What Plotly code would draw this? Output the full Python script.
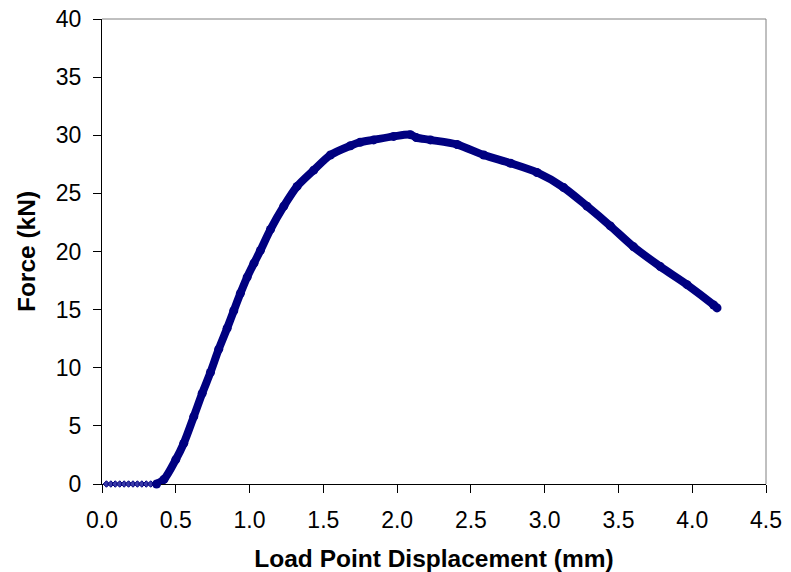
import plotly.graph_objects as go

# Load point displacement (mm) vs force (kN)
flat_disp = [0.03, 0.06, 0.09, 0.12, 0.15, 0.18, 0.21, 0.24, 0.27, 0.30, 0.33, 0.36]
flat_force = [0.0] * len(flat_disp)

disp = [0.37, 0.42, 0.50, 0.554, 0.622, 0.679, 0.735, 0.791, 0.848, 0.893,
        0.938, 0.984, 1.03, 1.074, 1.142, 1.232, 1.322, 1.435, 1.548, 1.684, 1.75,
        1.841, 1.977, 2.09, 2.13, 2.226, 2.407, 2.587, 2.768, 2.948, 3.129,
        3.287, 3.445, 3.603, 3.784, 3.965, 4.145, 4.168]
force = [0.0, 0.4, 2.1, 3.5, 5.8, 7.8, 9.6, 11.6, 13.4, 14.9,
         16.4, 17.8, 19.0, 20.1, 21.9, 23.9, 25.6, 27.0, 28.3, 29.1, 29.4,
         29.6, 29.9, 30.05, 29.8, 29.6, 29.2, 28.3, 27.6, 26.8, 25.5,
         23.9, 22.2, 20.4, 18.7, 17.15, 15.4, 15.15]

x_ticks = [0.0, 0.5, 1.0, 1.5, 2.0, 2.5, 3.0, 3.5, 4.0, 4.5]
y_ticks = [0, 5, 10, 15, 20, 25, 30, 35, 40]

navy = '#000080'

fig = go.Figure()

# flat part before contact: small spaced markers
fig.add_trace(go.Scatter(x=flat_disp, y=flat_force, mode='lines+markers',
                         line=dict(color=navy, width=1),
                         marker=dict(symbol='diamond', size=5, color='#3a3aa8',
                                     line=dict(color=navy, width=1)),
                         cliponaxis=False, showlegend=False))

# loaded part: dense band of markers
fig.add_trace(go.Scatter(x=disp, y=force, mode='lines+markers',
                         line=dict(color=navy, width=8, shape='spline', smoothing=0.8),
                         marker=dict(symbol='circle', size=9, color=navy),
                         cliponaxis=False, showlegend=False))

axis_font = dict(family='Liberation Sans, Arial, sans-serif', size=23, color='black')
title_font = dict(family='Liberation Sans, Arial, sans-serif', size=24.5, color='black')

fig.update_xaxes(range=[0, 4.5], tickvals=x_ticks, ticktext=[f'{v:.1f}' for v in x_ticks],
                 showline=True, linecolor='black', linewidth=1,
                 ticks='outside', ticklen=8, tickcolor='black',
                 showgrid=False, zeroline=False, tickfont=axis_font,
                 layer='below traces', automargin=False, ticklabelstandoff=7,
                 title=dict(text='<b>Load Point Displacement (mm)</b>', font=title_font, standoff=18))
fig.update_yaxes(range=[0, 40], tickvals=y_ticks,
                 showline=True, linecolor='black', linewidth=1,
                 ticks='outside', ticklen=8, tickcolor='black',
                 showgrid=False, zeroline=False, tickfont=axis_font,
                 layer='below traces', automargin=False, ticklabelstandoff=7,
                 title=dict(text='<b>Force (kN)</b>', font=title_font, standoff=13))

# thin grey frame on top and right
fig.add_shape(type='line', xref='paper', yref='paper', x0=0, x1=1, y0=1, y1=1,
              line=dict(color='#808080', width=1))
fig.add_shape(type='line', xref='paper', yref='paper', x0=1, x1=1, y0=0, y1=1,
              line=dict(color='#808080', width=1))

fig.update_layout(width=791, height=572,
                  margin=dict(l=101.5, r=25, t=19, b=87.5),
                  paper_bgcolor='white', plot_bgcolor='white')

# drop the browser's default body margin so the figure fills the window
fig.write_html("out.html", config={'displayModeBar': False},
               post_script="document.body.style.margin='0';")
